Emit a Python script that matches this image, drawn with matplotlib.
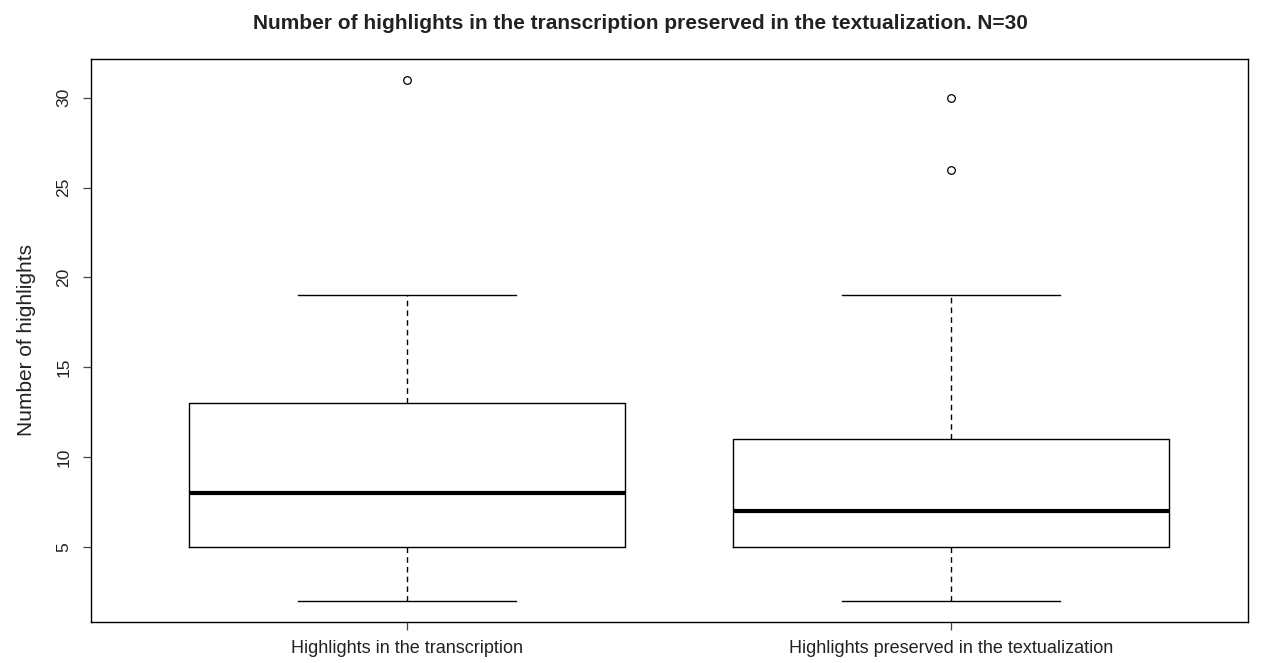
import matplotlib.pyplot as plt

# Resumen de cada grupo (valores del boxplot)
grupos = ["Highlights in the transcription", "Highlights preserved in the textualization"]
whisker_low = [2, 2]
q1 = [5, 5]
medianas = [8, 7]
q3 = [13, 11]
whisker_high = [19, 19]
atipicos = [[31], [30, 26]]

plt.rcParams['font.family'] = ['Liberation Sans', 'DejaVu Sans']

fig = plt.figure(figsize=(12.66, 6.63), dpi=100)
ax = fig.add_axes([0.0719, 0.0623, 0.9139, 0.8487])

stats = []
for i in range(len(grupos)):
    stats.append({
        "whislo": whisker_low[i], "q1": q1[i], "med": medianas[i],
        "q3": q3[i], "whishi": whisker_high[i], "fliers": atipicos[i],
    })

ax.bxp(stats, positions=[1, 2], widths=0.8, capwidths=0.4, showfliers=True,
       boxprops=dict(color="black", linewidth=1.0),
       medianprops=dict(color="black", linewidth=3.0, solid_capstyle="butt"),
       whiskerprops=dict(color="black", linewidth=1.0, linestyle=(0, (4, 3))),
       capprops=dict(color="black", linewidth=1.0),
       flierprops=dict(marker="o", markerfacecolor="none", markeredgecolor="black",
                       markersize=5.5, markeredgewidth=0.9))

ax.set_xlim(0.42, 2.545)
ax.set_ylim(0.84, 32.16)
ax.set_xticks([1, 2])
ax.set_xticklabels(grupos, fontsize=13, color="#222222")
ax.set_yticks([5, 10, 15, 20, 25, 30])
ax.set_yticklabels(["5", "10", "15", "20", "25", "30"], rotation=90, va="center",
                   fontsize=12.5, color="#222222")
ax.tick_params(axis="both", length=6, width=0.9, color="#444444")
ax.tick_params(axis="y", pad=8)
ax.tick_params(axis="x", pad=7)
for s in ax.spines.values():
    s.set_linewidth(1.0)

ax.set_ylabel("Number of highlights", fontsize=15, color="#222222")
ax.yaxis.set_label_coords(-0.0475, 0.5)
fig.text(0.506, 0.965, "Number of highlights in the transcription preserved in the textualization. N=30",
         ha="center", va="center", fontsize=15, fontweight="bold", color="#222222")

plt.savefig("out.png", dpi=100)
plt.close()
